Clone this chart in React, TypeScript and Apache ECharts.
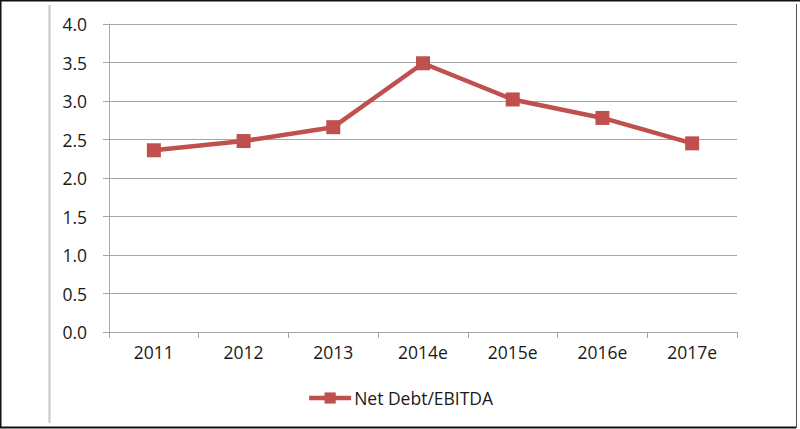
import React, { useEffect, useRef } from "react";
import * as echarts from "echarts";

const categories = ["2011", "2012", "2013", "2014e", "2015e", "2016e", "2017e"];
const netDebtEbitda = [2.36, 2.48, 2.66, 3.49, 3.02, 2.78, 2.45];
const seriesName = "Net Debt/EBITDA";

export default function App() {
  const ref = useRef<HTMLDivElement>(null);
  useEffect(() => {
    if (!ref.current) return;
    const chart = echarts.init(ref.current, null, { renderer: "svg" });
    const font = "'Open Sans', sans-serif";
    chart.setOption({
      animation: false,
      backgroundColor: "#ffffff",
      grid: { left: 109, right: 63, top: 24, bottom: 97, containLabel: false },
      xAxis: {
        type: "category",
        data: categories,
        boundaryGap: true,
        axisLine: { lineStyle: { color: "#a6a6a6", width: 1 } },
        axisTick: { show: true, length: 6, inside: false, lineStyle: { color: "#a6a6a6" } },
        axisLabel: { color: "#1a1a1a", fontSize: 17.5, fontFamily: font, margin: 11 },
      },
      yAxis: {
        type: "value",
        min: 0,
        max: 4,
        interval: 0.5,
        axisLine: { show: true, lineStyle: { color: "#a6a6a6", width: 1 } },
        axisTick: { show: true, length: 6, lineStyle: { color: "#a6a6a6" } },
        splitLine: { lineStyle: { color: "#a6a6a6", width: 1 } },
        axisLabel: {
          color: "#1a1a1a",
          fontSize: 17.5,
          fontFamily: font,
          margin: 22,
          formatter: (v: number) => v.toFixed(1),
        },
      },
      legend: {
        show: true,
        bottom: 17,
        left: "center",
        itemWidth: 42,
        itemHeight: 14,
        itemGap: 5,
        lineStyle: { width: 4.5 },
        textStyle: { color: "#1a1a1a", fontSize: 17.5, fontFamily: font, padding: [0, 0, 0, -2] },
        data: [seriesName],
      },
      graphic: [
        { type: "line", shape: { x1: 0, y1: 0.5, x2: 800, y2: 0.5 }, style: { stroke: "#111", lineWidth: 2 } },
        { type: "line", shape: { x1: 0.5, y1: 0, x2: 0.5, y2: 428 }, style: { stroke: "#111", lineWidth: 2 } },
        { type: "line", shape: { x1: 0, y1: 427.5, x2: 796, y2: 427.5 }, style: { stroke: "#111", lineWidth: 2 } },
        { type: "line", shape: { x1: 796.5, y1: 4, x2: 796.5, y2: 428 }, style: { stroke: "#555", lineWidth: 1 } },
        { type: "line", shape: { x1: 49.5, y1: 5, x2: 49.5, y2: 423 }, style: { stroke: "#c8c8c8", lineWidth: 2 } },
      ],
      series: [
        {
          name: seriesName,
          type: "line",
          data: netDebtEbitda,
          symbol: "rect",
          symbolSize: 14,
          lineStyle: { color: "#c0504d", width: 4.5 },
          itemStyle: { color: "#c0504d" },
        },
      ],
    });
    return () => chart.dispose();
  }, []);
  return (
    <div
      ref={ref}
      style={{ position: "fixed", left: 0, top: 0, width: 800, height: 429 }}
    />
  );
}
